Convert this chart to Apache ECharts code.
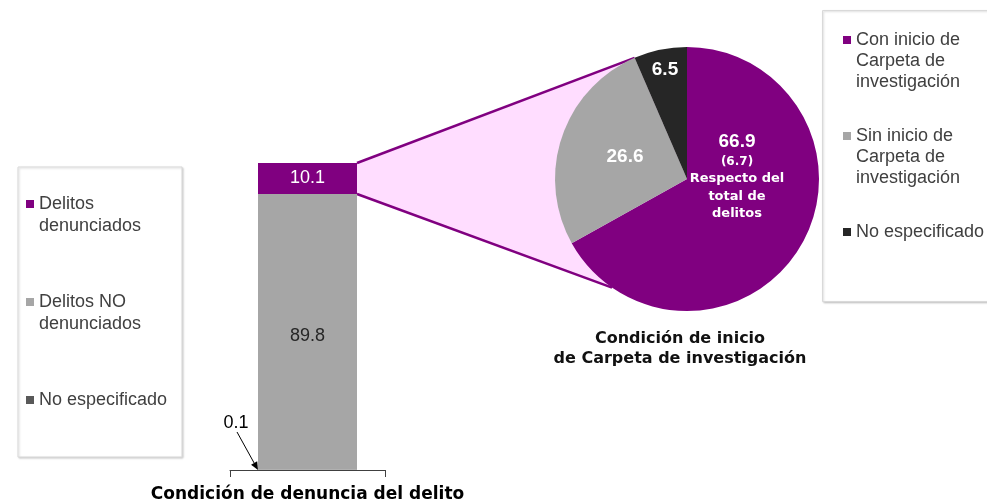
<!DOCTYPE html>
<html><head><meta charset="utf-8">
<script src="https://cdn.jsdelivr.net/npm/echarts@6/dist/echarts.min.js"></script>
<style>html,body{margin:0;padding:0;background:#fff}#c{width:987px;height:504px}</style>
</head><body><div id="c"></div>
<script>
// ---- data ----
const barCategories = ['Condición de denuncia del delito'];
const barSeriesNames = ['No especificado', 'Delitos NO denunciados', 'Delitos denunciados']; // bottom -> top
const barValues = [0.1, 89.8, 10.1];
const barLegendNames = ['Delitos denunciados', 'Delitos NO denunciados', 'No especificado'];
const barLegendLabels = ['Delitos\ndenunciados', 'Delitos NO\ndenunciados', 'No especificado'];
const pieTitle = 'Condición de inicio\nde Carpeta de investigación';
const pieNames = ['Con inicio de Carpeta de investigación', 'Sin inicio de Carpeta de investigación', 'No especificado'];
const pieValues = [66.9, 26.6, 6.5];
const pieLegendLabels = ['Con inicio de\nCarpeta de\ninvestigación', 'Sin inicio de\nCarpeta de\ninvestigación', 'No especificado'];
const respectoTotal = [6.7];
const respectoText = 'Respecto del\ntotal de\ndelitos';

// ---- style ----
const barColors = { 'No especificado': '#595959', 'Delitos NO denunciados': '#A6A6A6', 'Delitos denunciados': '#800080' };
const pieColors = ['#800080', '#A6A6A6', '#262626'];
const pieCenter = [687, 179];
const pieRadius = 132;
const pieLabelOffsets = [[50, -2], [-62, -22], [-22, -109]];
const connectorBottomAngle = 214.6; // degrees clockwise from top
const legendText = '#404040';

const chart = echarts.init(document.getElementById('c'), null, { renderer: 'canvas' });

const barSeries = barSeriesNames.map((name, i) => ({
  type: 'bar', name: name, stack: 'total', barWidth: 99,
  data: [barValues[i]],
  itemStyle: { color: barColors[name] },
  label: {
    show: name !== 'No especificado', position: 'inside',
    offset: name === 'Delitos NO denunciados' ? [0, 4] : [0, 0],
    fontSize: 18, fontFamily: 'Liberation Sans, Arial',
    color: name === 'Delitos denunciados' ? '#ffffff' : '#262626',
    formatter: p => p.value.toFixed(1)
  },
  emphasis: { disabled: true },
  animation: false
}));

const option = {
  animation: false,
  title: {
    text: pieTitle, left: 680, top: 329, textAlign: 'center', padding: 0,
    textStyle: { fontSize: 16, lineHeight: 20, fontFamily: 'DejaVu Sans', fontWeight: 'bold', color: '#111' }
  },
  grid: { left: 230, right: 987 - 385, top: 163, bottom: 34, containLabel: false, outerBoundsMode: 'none' },
  xAxis: {
    type: 'category', data: barCategories,
    name: barCategories[0], nameLocation: 'middle', nameGap: 16,
    nameTextStyle: { fontSize: 17, fontFamily: 'DejaVu Sans', fontWeight: 'bold', color: '#000' },
    axisLine: { lineStyle: { color: '#404040', width: 1 } },
    axisTick: { show: true, length: 7, lineStyle: { color: '#404040' } },
    axisLabel: { show: false }
  },
  yAxis: { type: 'value', min: 0, max: 100, show: false },
  legend: [
    {
      orient: 'vertical', left: 26, top: 171, padding: 0, itemGap: 32,
      itemWidth: 8, itemHeight: 8, icon: 'rect', selectedMode: false,
      data: barLegendNames.map(n => ({ name: n, itemStyle: { color: barColors[n] } })),
      textStyle: { fontSize: 18, lineHeight: 22, color: legendText, fontFamily: 'Liberation Sans, Arial' },
      formatter: function (name) {
        const lbl = barLegendLabels[barLegendNames.indexOf(name)];
        return lbl.split('\n').length === 2 ? '\n' + lbl : '\n' + lbl + '\n';
      }
    },
    {
      orient: 'vertical', left: 843, top: -12.5, padding: 0, itemGap: -9,
      itemWidth: 8, itemHeight: 8, icon: 'rect', selectedMode: false,
      data: pieNames.map((n, i) => ({ name: n, itemStyle: { color: pieColors[i] } })),
      textStyle: { fontSize: 18, lineHeight: 21, color: legendText, fontFamily: 'Liberation Sans, Arial' },
      formatter: function (name) {
        const lbl = pieLegendLabels[pieNames.indexOf(name)];
        return lbl.split('\n').length === 3 ? '\n\n' + lbl : '\n\n' + lbl + '\n\n';
      }
    }
  ],
  series: barSeries.concat([{
    type: 'pie', center: pieCenter, radius: pieRadius, startAngle: 90, clockwise: true,
    animation: false, silent: true,
    data: pieNames.map((n, i) => ({ name: n, value: pieValues[i], itemStyle: { color: pieColors[i] } })),
    label: {
      show: true, position: 'inside', color: '#fff',
      fontFamily: 'Liberation Sans, Arial', fontWeight: 'bold', fontSize: 19,
      formatter: function (p) {
        if (p.dataIndex === 0) {
          const t = respectoText.split('\n').map(s => '{t|' + s + '}').join('\n');
          return '{v|' + p.value.toFixed(1) + '}\n{s|(' + respectoTotal[0].toFixed(1) + ')}\n' + t;
        }
        return '{v|' + p.value.toFixed(1) + '}';
      },
      rich: {
        v: { fontSize: 19, fontWeight: 'bold', color: '#fff', fontFamily: 'Liberation Sans, Arial', lineHeight: 22, align: 'center' },
        s: { fontSize: 12, fontWeight: 'bold', color: '#fff', fontFamily: 'DejaVu Sans', lineHeight: 17, align: 'center' },
        t: { fontSize: 13, fontWeight: 'bold', color: '#fff', fontFamily: 'DejaVu Sans', lineHeight: 17.5, align: 'center' }
      }
    },
    labelLine: { show: false },
    labelLayout: function (params) {
      const o = pieLabelOffsets[params.dataIndex];
      return { x: pieCenter[0] + o[0], y: pieCenter[1] + o[1], align: 'center', verticalAlign: 'middle' };
    },
    emphasis: { disabled: true }
  }])
};

chart.setOption(option);

// ---- decorations computed from the axes / pie geometry ----
const total = barValues.reduce((a, b) => a + b, 0);
const pTop = chart.convertToPixel({ gridIndex: 0 }, [0, total]);
const pMid = chart.convertToPixel({ gridIndex: 0 }, [0, total - barValues[2]]);
const pZero = chart.convertToPixel({ gridIndex: 0 }, [0, 0]);
const halfBar = 99 / 2;
const barRight = pTop[0] + halfBar;
const barLeft = pTop[0] - halfBar;

const pieSum = pieValues.reduce((a, b) => a + b, 0);
function piePoint(degCw) {
  const a = (90 - degCw) * Math.PI / 180;
  return [pieCenter[0] + pieRadius * Math.cos(a), pieCenter[1] - pieRadius * Math.sin(a)];
}
const pieTopPt = piePoint(360 * (pieValues[0] + pieValues[1]) / pieSum);
const pieBotPt = piePoint(connectorBottomAngle);

// arrow for the small value
const arrowEnd = [barLeft, pZero[1]];
const arrowStart = [arrowEnd[0] - 21, arrowEnd[1] - 38];
const ang = Math.atan2(arrowEnd[1] - arrowStart[1], arrowEnd[0] - arrowStart[0]);
const ah = 8, aw = 3.5;
const base = [arrowEnd[0] - ah * Math.cos(ang), arrowEnd[1] - ah * Math.sin(ang)];
const headPts = [arrowEnd,
  [base[0] + aw * Math.sin(ang), base[1] - aw * Math.cos(ang)],
  [base[0] - aw * Math.sin(ang), base[1] + aw * Math.cos(ang)]];

chart.setOption({
  graphic: [
    { type: 'rect', z: -10, shape: { x: 18, y: 167, width: 164, height: 290 },
      style: { fill: '#fff', stroke: '#D9D9D9', lineWidth: 1, shadowBlur: 2, shadowOffsetX: 1, shadowOffsetY: 1, shadowColor: 'rgba(0,0,0,0.18)' } },
    { type: 'rect', z: -10, shape: { x: 822.5, y: 10.5, width: 180, height: 291 },
      style: { fill: '#fff', stroke: '#D9D9D9', lineWidth: 1, shadowBlur: 2, shadowOffsetX: 1, shadowOffsetY: 1, shadowColor: 'rgba(0,0,0,0.18)' } },
    { type: 'polygon', z: -5,
      shape: { points: [[barRight, pTop[1]], pieTopPt, pieCenter, pieBotPt, [barRight, pMid[1]]] },
      style: { fill: '#FFDDFF' } },
    { type: 'line', z: -4, shape: { x1: barRight, y1: pTop[1], x2: pieTopPt[0], y2: pieTopPt[1] },
      style: { stroke: '#800080', lineWidth: 2.5 } },
    { type: 'line', z: -4, shape: { x1: barRight, y1: pMid[1], x2: pieBotPt[0], y2: pieBotPt[1] },
      style: { stroke: '#800080', lineWidth: 2.5 } },
    { type: 'line', shape: { x1: arrowStart[0], y1: arrowStart[1], x2: base[0], y2: base[1] },
      style: { stroke: '#000', lineWidth: 1 } },
    { type: 'polygon', shape: { points: headPts }, style: { fill: '#000' } },
    { type: 'text', x: arrowEnd[0] - 22, y: arrowEnd[1] - 47,
      style: { text: barValues[0].toFixed(1), fontSize: 18, fontFamily: 'Liberation Sans, Arial', fill: '#000', align: 'center', verticalAlign: 'middle' } }
  ]
});
</script>
</body></html>
